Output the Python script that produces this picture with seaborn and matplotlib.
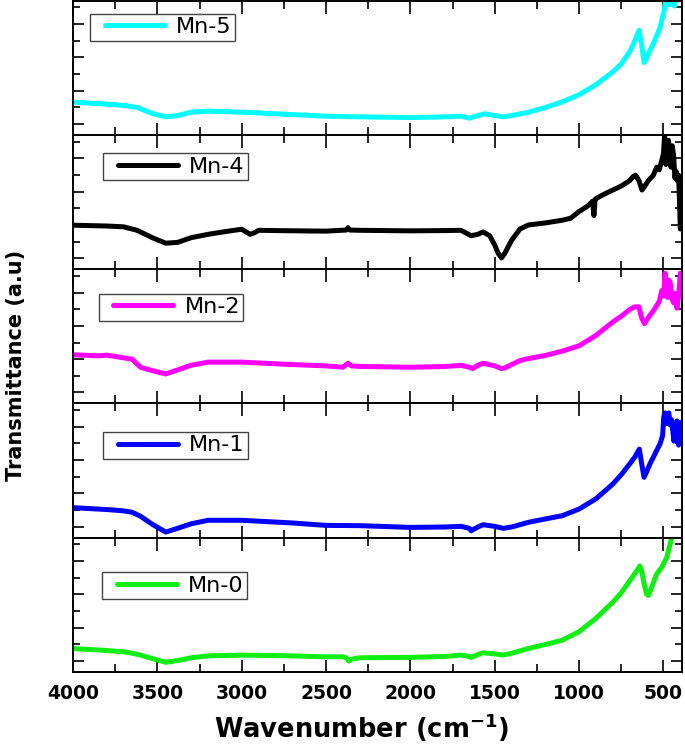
import numpy as np
import pandas as pd
import matplotlib
matplotlib.use("Agg")
import matplotlib.pyplot as plt
import seaborn as sns
from matplotlib.ticker import MultipleLocator
from matplotlib.lines import Line2D
from matplotlib.legend_handler import HandlerLine2D

# FTIR spectra (y = fraction of each panel's height)
wn_mn5 = [4000, 3800, 3700, 3620, 3530, 3450, 3380, 3300, 3200, 3000, 2700, 2500, 2300, 2000, 1800, 1700,
          1650, 1600, 1560, 1500, 1450, 1400, 1300, 1200, 1100, 1000, 900, 800, 750, 700, 670, 645, 630,
          615, 600, 580, 560, 540, 520, 505, 495, 485, 475, 465, 455, 445, 435, 420, 400]
t_mn5 = [0.245, 0.23, 0.22, 0.205, 0.16, 0.135, 0.145, 0.17, 0.178, 0.17, 0.152, 0.14, 0.135, 0.13, 0.135, 0.14,
         0.125, 0.145, 0.158, 0.145, 0.135, 0.145, 0.17, 0.205, 0.247, 0.30, 0.375, 0.47, 0.53, 0.62, 0.70, 0.78, 0.68,
         0.54, 0.57, 0.63, 0.68, 0.74, 0.80, 0.88, 0.93, 1.02, 0.97, 1.04, 0.97, 1.03, 0.96, 1.05, 1.05]

wn_mn4 = [4000, 3800, 3700, 3620, 3530, 3450, 3380, 3300, 3200, 3100, 3000, 2950, 2920, 2900, 2800, 2600,
          2500, 2380, 2370, 2360, 2300, 2000, 1800, 1700, 1640, 1600, 1570, 1530, 1500, 1480, 1460, 1440,
          1400, 1350, 1300, 1200, 1100, 1050, 1000, 950, 920, 912, 905, 895, 850, 800, 750, 700, 680, 665,
          645, 627, 610, 590, 560, 540, 525, 510, 500, 493, 485, 478, 470, 462, 455, 448, 440, 432, 425,
          418, 410, 403, 400]
t_mn4 = [0.328, 0.322, 0.316, 0.29, 0.235, 0.194, 0.2, 0.235, 0.26, 0.28, 0.298, 0.26, 0.275, 0.29, 0.288, 0.285,
         0.284, 0.292, 0.31, 0.292, 0.29, 0.286, 0.288, 0.29, 0.25, 0.26, 0.278, 0.25, 0.18, 0.12, 0.084, 0.12,
         0.216, 0.30, 0.33, 0.345, 0.365, 0.38, 0.43, 0.47, 0.507, 0.40, 0.52, 0.53, 0.56, 0.59, 0.62, 0.66, 0.69, 0.70,
         0.66, 0.59, 0.62, 0.66, 0.70, 0.76, 0.74, 0.81, 0.86, 1.0, 0.78, 0.87, 0.96, 0.80, 0.76, 0.92, 0.85, 0.68, 0.73,
         0.66, 0.70, 0.44, 0.30]

wn_mn2 = [4000, 3850, 3800, 3700, 3650, 3600, 3530, 3450, 3380, 3300, 3200, 3000, 2700, 2500, 2400, 2370,
          2350, 2300, 2000, 1800, 1700, 1650, 1630, 1600, 1570, 1500, 1460, 1440, 1400, 1350, 1300, 1200,
          1100, 1000, 900, 800, 750, 700, 670, 645, 630, 613, 600, 580, 560, 540, 525, 510, 500, 490, 482,
          475, 468, 460, 450, 440, 430, 420, 410, 400]
t_mn2 = [0.363, 0.355, 0.36, 0.34, 0.33, 0.27, 0.245, 0.22, 0.25, 0.285, 0.308, 0.308, 0.29, 0.28, 0.27, 0.30,
         0.28, 0.276, 0.27, 0.275, 0.284, 0.27, 0.26, 0.285, 0.30, 0.28, 0.26, 0.265, 0.29, 0.32, 0.335, 0.358,
         0.39, 0.43, 0.507, 0.607, 0.65, 0.70, 0.72, 0.72, 0.64, 0.595, 0.62, 0.657, 0.69, 0.73, 0.76, 0.84, 0.80, 0.97, 0.85,
         0.79, 0.92, 0.90, 0.78, 0.75, 0.82, 0.71, 0.80, 0.97]

wn_mn1 = [4000, 3800, 3700, 3650, 3600, 3530, 3450, 3380, 3300, 3200, 3000, 2700, 2500, 2300, 2000, 1800,
          1700, 1650, 1640, 1600, 1570, 1500, 1450, 1400, 1300, 1200, 1100, 1000, 900, 800, 750, 700, 670,
          643, 630, 615, 600, 580, 560, 540, 520, 505, 498, 490, 482, 475, 468, 460, 452, 445, 438, 430,
          420, 410, 400]
t_mn1 = [0.224, 0.21, 0.2, 0.19, 0.16, 0.10, 0.042, 0.07, 0.104, 0.13, 0.13, 0.11, 0.092, 0.09, 0.077, 0.08,
         0.085, 0.07, 0.052, 0.08, 0.097, 0.085, 0.07, 0.08, 0.115, 0.14, 0.164, 0.214, 0.29, 0.40, 0.47, 0.55, 0.60,
         0.66, 0.56, 0.45, 0.49, 0.55, 0.60, 0.65, 0.70, 0.76, 0.90, 0.93, 0.85, 0.92, 0.93, 0.84, 0.88, 0.80, 0.72, 0.82,
         0.87, 0.69, 0.86]

wn_mn0 = [4000, 3800, 3700, 3650, 3600, 3530, 3450, 3380, 3300, 3200, 3000, 2700, 2500, 2400, 2380, 2365,
          2350, 2300, 2000, 1800, 1700, 1650, 1640, 1600, 1570, 1500, 1450, 1400, 1300, 1200, 1100, 1000,
          900, 800, 750, 700, 660, 640, 630, 615, 600, 590, 570, 540, 510, 480, 460, 440, 420]
t_mn0 = [0.175, 0.16, 0.15, 0.14, 0.126, 0.10, 0.072, 0.085, 0.106, 0.12, 0.126, 0.12, 0.113, 0.113, 0.105, 0.081,
         0.095, 0.106, 0.109, 0.115, 0.126, 0.115, 0.109, 0.13, 0.143, 0.135, 0.126, 0.14, 0.175, 0.205, 0.237, 0.30,
         0.40, 0.52, 0.59, 0.68, 0.75, 0.79, 0.76, 0.66, 0.58, 0.57, 0.63, 0.73, 0.78, 0.854, 0.955, 1.06, 1.15]

labels = ["Mn-5", "Mn-4", "Mn-2", "Mn-1", "Mn-0"]
colors = ["#00ffff", "#000000", "#ff00ff", "#0000ff", "#11ee11"]
spectra = [(wn_mn5, t_mn5), (wn_mn4, t_mn4), (wn_mn2, t_mn2), (wn_mn1, t_mn1), (wn_mn0, t_mn0)]
legend_pos = [(0.028, 0.904), (0.049, 0.866), (0.042, 0.819), (0.050, 0.789), (0.048, 0.743)]

sns.set_style("ticks")
plt.rcParams['font.family'] = ['DejaVu Sans']
plt.rcParams['text.color'] = 'black'
plt.rcParams['axes.labelcolor'] = 'black'
plt.rcParams['xtick.color'] = 'black'
plt.rcParams['ytick.color'] = 'black'

fig, axes = plt.subplots(5, 1, figsize=(6.85, 7.45), dpi=100, sharex=True,
                         gridspec_kw={'hspace': 0})
fig.subplots_adjust(left=0.1066, right=0.9956, top=0.999, bottom=0.098)

for ax, (wn, t), lab, col, pos in zip(axes, spectra, labels, colors, legend_pos):
    df = pd.DataFrame({'wn': wn, 't': t})
    sns.lineplot(data=df, x='wn', y='t', ax=ax, color=col, linewidth=3.6,
                 estimator=None, label=lab)
    ax.lines[0].set_solid_joinstyle('round')
    ax.lines[0].set_solid_capstyle('round')
    ax.set_ylim(0, 1)
    ax.set_xlim(4000, 390)
    ax.set_ylabel('')
    ax.set_yticklabels([])
    ax.yaxis.set_major_locator(MultipleLocator(0.248, offset=0.082))
    ax.yaxis.set_minor_locator(MultipleLocator(0.124, offset=0.082))
    ax.xaxis.set_major_locator(MultipleLocator(500))
    ax.xaxis.set_minor_locator(MultipleLocator(250))
    ax.tick_params(axis='both', which='both', direction='in', top=True, right=True,
                   color='black', width=1.2)
    ax.tick_params(axis='x', which='major', length=9)
    ax.tick_params(axis='x', which='minor', length=5.5)
    ax.tick_params(axis='y', which='major', length=8)
    ax.tick_params(axis='y', which='minor', length=5)
    ax.tick_params(axis='x', labelsize=13.5, pad=9, labelcolor='black')
    for s in ax.spines.values():
        s.set_linewidth(1.4)
        s.set_color('black')
    leg = ax.legend(loc='upper left', bbox_to_anchor=pos, borderaxespad=0, fontsize=16,
                    frameon=True, fancybox=False, framealpha=1, edgecolor='#444444',
                    handlelength=3.7, handletextpad=0.0, borderpad=0.16,
                    handler_map={Line2D: HandlerLine2D(numpoints=2, marker_pad=0.5)})
    leg.get_frame().set_linewidth(1.0)
    for txt in leg.get_texts():
        txt.set_color('black')

bottom = axes[-1]
for t in bottom.get_xticklabels():
    t.set_fontweight('bold')
bottom.set_xlabel('Wavenumber (cm$^{\\mathbf{-1}}$)', fontsize=18.5, fontweight='bold', color='black')
bottom.xaxis.set_label_coords(0.473, -0.295)

fig.text(0.024, 0.509, 'Transmittance (a.u)', rotation=90, fontsize=15, fontweight='bold',
         ha='center', va='center', color='black')

fig.savefig('out.png', dpi=100)
